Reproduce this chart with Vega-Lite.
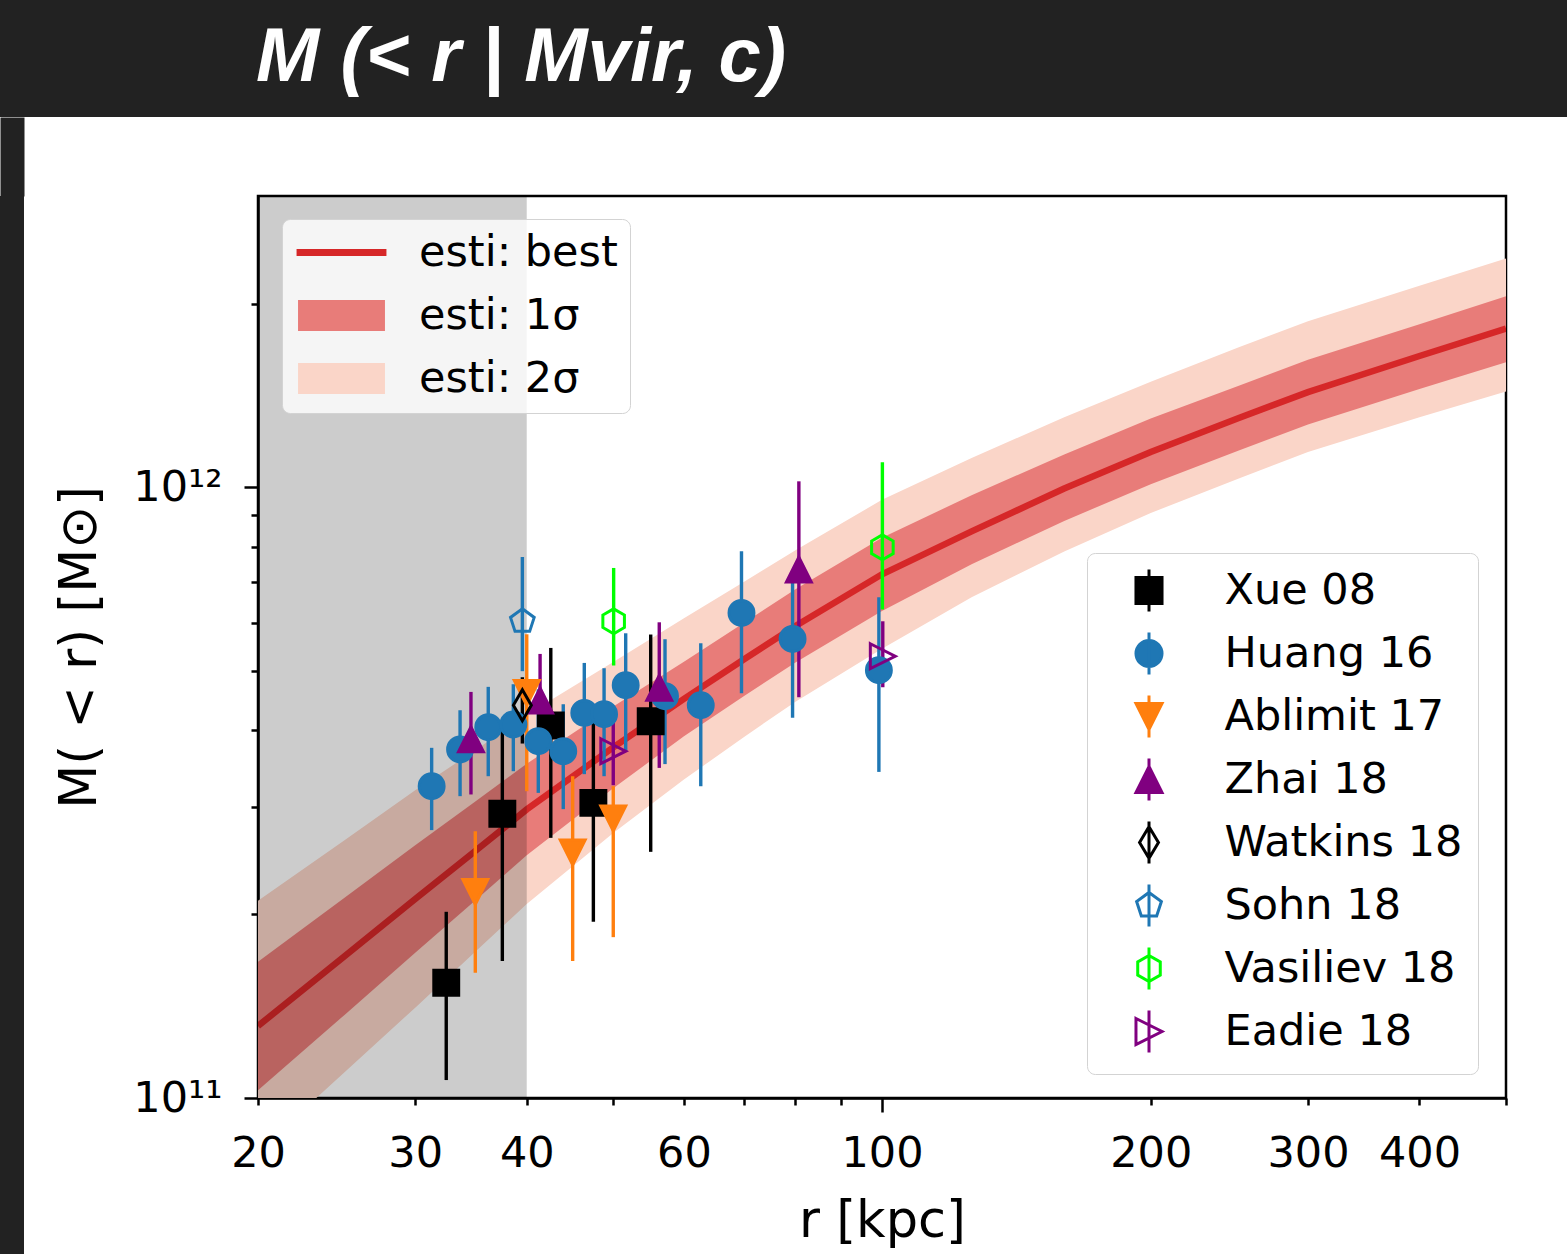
{
  "$schema": "https://vega.github.io/schema/vega-lite/v6.json",
  "padding": 0,
  "background": "white",
  "spacing": -12,
  "config": {
    "axis": {
      "grid": false,
      "domainColor": "black",
      "domainWidth": 2.5,
      "tickColor": "black",
      "tickWidth": 2.5,
      "labelFont": "DejaVu Sans",
      "labelFontSize": 43,
      "labelColor": "black",
      "titleFont": "DejaVu Sans",
      "titleFontSize": 51,
      "titleFontWeight": "normal",
      "titleColor": "black",
      "labelFlush": false,
      "labelOverlap": false
    }
  },
  "datasets": {
    "curve": [
      {"r": 20, "m": 1.312e11, "s1lo": 1.030e11, "s1hi": 1.671e11, "s2lo": 0.818e11, "s2hi": 2.104e11},
      {"r": 25, "m": 1.706e11, "s1lo": 1.368e11, "s1hi": 2.128e11, "s2lo": 1.102e11, "s2hi": 2.642e11},
      {"r": 30, "m": 2.118e11, "s1lo": 1.730e11, "s1hi": 2.594e11, "s2lo": 1.406e11, "s2hi": 3.192e11},
      {"r": 35, "m": 2.535e11, "s1lo": 2.104e11, "s1hi": 3.055e11, "s2lo": 1.734e11, "s2hi": 3.707e11},
      {"r": 40, "m": 2.969e11, "s1lo": 2.498e11, "s1hi": 3.528e11, "s2lo": 2.078e11, "s2hi": 4.242e11},
      {"r": 50, "m": 3.750e11, "s1lo": 3.214e11, "s1hi": 4.375e11, "s2lo": 2.716e11, "s2hi": 5.176e11},
      {"r": 60, "m": 4.504e11, "s1lo": 3.913e11, "s1hi": 5.183e11, "s2lo": 3.323e11, "s2hi": 6.103e11},
      {"r": 70, "m": 5.224e11, "s1lo": 4.550e11, "s1hi": 5.998e11, "s2lo": 3.899e11, "s2hi": 6.998e11},
      {"r": 80, "m": 5.929e11, "s1lo": 5.164e11, "s1hi": 6.808e11, "s2lo": 4.457e11, "s2hi": 7.889e11},
      {"r": 100, "m": 7.205e11, "s1lo": 6.276e11, "s1hi": 8.272e11, "s2lo": 5.441e11, "s2hi": 9.541e11},
      {"r": 126, "m": 8.472e11, "s1lo": 7.482e11, "s1hi": 9.705e11, "s2lo": 6.607e11, "s2hi": 1.117e12},
      {"r": 160, "m": 9.954e11, "s1lo": 8.810e11, "s1hi": 1.132e12, "s2lo": 7.852e11, "s2hi": 1.303e12},
      {"r": 200, "m": 1.143e12, "s1lo": 1.012e12, "s1hi": 1.297e12, "s2lo": 9.078e11, "s2hi": 1.489e12},
      {"r": 251, "m": 1.299e12, "s1lo": 1.149e12, "s1hi": 1.467e12, "s2lo": 1.034e12, "s2hi": 1.696e12},
      {"r": 300, "m": 1.432e12, "s1lo": 1.268e12, "s1hi": 1.618e12, "s2lo": 1.143e12, "s2hi": 1.871e12},
      {"r": 400, "m": 1.641e12, "s1lo": 1.449e12, "s1hi": 1.849e12, "s2lo": 1.303e12, "s2hi": 2.138e12},
      {"r": 500, "m": 1.820e12, "s1lo": 1.603e12, "s1hi": 2.056e12, "s2lo": 1.435e12, "s2hi": 2.371e12}
    ],
    "shade": [{"x1": 20, "x2": 40}],
    "header": [{"t": "M (< r | Mvir, c)"}],
    "obs": [
      {"source": "Xue 08", "r": 32.5, "m": 1.544e11, "lo": 1.07e11, "hi": 2.018e11},
      {"source": "Xue 08", "r": 37.56, "m": 2.92e11, "lo": 1.676e11, "hi": 4.14e11},
      {"source": "Xue 08", "r": 42.56, "m": 4.074e11, "lo": 2.667e11, "hi": 5.458e11},
      {"source": "Xue 08", "r": 47.5, "m": 3.043e11, "lo": 1.943e11, "hi": 4.14e11},
      {"source": "Xue 08", "r": 55.07, "m": 4.14e11, "lo": 2.53e11, "hi": 5.741e11},
      {"source": "Huang 16", "r": 31.3, "m": 3.24e11, "lo": 2.746e11, "hi": 3.745e11},
      {"source": "Huang 16", "r": 33.68, "m": 3.722e11, "lo": 3.121e11, "hi": 4.315e11},
      {"source": "Huang 16", "r": 36.22, "m": 4.048e11, "lo": 3.365e11, "hi": 4.713e11},
      {"source": "Huang 16", "r": 38.64, "m": 4.09e11, "lo": 3.429e11, "hi": 4.76e11},
      {"source": "Huang 16", "r": 41.21, "m": 3.84e11, "lo": 3.16e11, "hi": 4.67e11},
      {"source": "Huang 16", "r": 43.95, "m": 3.698e11, "lo": 2.972e11, "hi": 4.414e11},
      {"source": "Huang 16", "r": 46.4, "m": 4.272e11, "lo": 3.391e11, "hi": 5.158e11},
      {"source": "Huang 16", "r": 48.83, "m": 4.251e11, "lo": 3.365e11, "hi": 5.056e11},
      {"source": "Huang 16", "r": 51.63, "m": 4.742e11, "lo": 3.698e11, "hi": 5.768e11},
      {"source": "Huang 16", "r": 57.14, "m": 4.55e11, "lo": 3.522e11, "hi": 5.64e11},
      {"source": "Huang 16", "r": 62.66, "m": 4.397e11, "lo": 3.24e11, "hi": 5.555e11},
      {"source": "Huang 16", "r": 69.6, "m": 6.228e11, "lo": 4.601e11, "hi": 7.858e11},
      {"source": "Huang 16", "r": 79.4, "m": 5.646e11, "lo": 4.193e11, "hi": 7.018e11},
      {"source": "Huang 16", "r": 99.2, "m": 5.018e11, "lo": 3.42e11, "hi": 6.607e11},
      {"source": "Ablimit 17", "r": 35.03, "m": 2.174e11, "lo": 1.604e11, "hi": 2.735e11},
      {"source": "Ablimit 17", "r": 40.0, "m": 4.607e11, "lo": 3.18e11, "hi": 5.746e11},
      {"source": "Ablimit 17", "r": 45.03, "m": 2.525e11, "lo": 1.676e11, "hi": 3.365e11},
      {"source": "Ablimit 17", "r": 50.0, "m": 2.87e11, "lo": 1.834e11, "hi": 3.24e11},
      {"source": "Zhai 18", "r": 34.64, "m": 3.868e11, "lo": 3.141e11, "hi": 4.624e11},
      {"source": "Zhai 18", "r": 41.4, "m": 4.477e11, "lo": 3.67e11, "hi": 5.336e11},
      {"source": "Zhai 18", "r": 56.3, "m": 4.694e11, "lo": 3.472e11, "hi": 6.012e11},
      {"source": "Zhai 18", "r": 80.7, "m": 7.334e11, "lo": 4.532e11, "hi": 1.023e12},
      {"source": "Watkins 18", "r": 39.55, "m": 4.397e11, "lo": 3.806e11, "hi": 4.887e11},
      {"source": "Sohn 18", "r": 39.55, "m": 6.035e11, "lo": 5.0e11, "hi": 7.69e11},
      {"source": "Vasiliev 18", "r": 50.05, "m": 6.035e11, "lo": 5.108e11, "hi": 7.379e11},
      {"source": "Vasiliev 18", "r": 100.1, "m": 7.977e11, "lo": 6.307e11, "hi": 1.099e12},
      {"source": "Eadie 18", "r": 50.0, "m": 3.698e11, "lo": 3.253e11, "hi": 4.288e11},
      {"source": "Eadie 18", "r": 100.2, "m": 5.29e11, "lo": 4.706e11, "hi": 6.035e11}
    ]
  },
  "vconcat": [
    {
      "width": 1567,
      "height": 117,
      "data": {"name": "header"},
      "mark": {
        "type": "text",
        "align": "left",
        "baseline": "alphabetic",
        "x": 256,
        "y": 81,
        "font": "Liberation Sans",
        "fontSize": 76,
        "fontStyle": "italic",
        "fontWeight": "bold",
        "color": "white"
      },
      "encoding": {"text": {"field": "t", "type": "nominal"}},
      "view": {"fill": "#222222", "stroke": null}
    },
    {
      "spacing": 29,
      "hconcat": [
        {
          "width": 24,
          "height": 1059,
          "data": {"values": [{}]},
          "mark": {"type": "point", "opacity": 0},
          "encoding": {
            "x": {
              "datum": 0.5, "type": "quantitative",
              "scale": {"domain": [0, 1]},
              "axis": {"orient": "top", "values": [0.5], "tickSize": 79, "tickWidth": 24, "tickCap": "butt", "tickColor": "#222222", "labels": false, "domain": false, "title": null, "ticks": true}
            }
          },
          "view": {"fill": "#222222", "stroke": null}
        },
        {
          "width": 1248,
          "height": 902,
          "view": {"stroke": "black", "strokeWidth": 2.5, "fill": "white"},
          "title": {"text": " ", "fontSize": 20, "offset": 55},
          "layer": [
            {
              "data": {"name": "curve"},
              "mark": {"type": "area", "clip": true, "opacity": 1},
              "encoding": {
                "x": {
                  "field": "r", "type": "quantitative",
                  "scale": {"type": "log", "domain": [20, 500], "nice": false},
                  "axis": {
                    "title": "r [kpc]",
                    "values": [20, 30, 40, 50, 60, 70, 80, 90, 100, 200, 300, 400, 500],
                    "format": "d",
                    "labelExpr": "indexof([20,30,40,60,100,200,300,400], datum.value) >= 0 ? datum.label : ''",
                    "tickSize": {"condition": {"test": "datum.value == 100", "value": 14}, "value": 7},
                    "labelPadding": {"condition": {"test": "datum.value == 100", "value": 20}, "value": 27},
                    "titlePadding": 21
                  }
                },
                "y": {
                  "field": "s2lo", "type": "quantitative",
                  "scale": {"type": "log", "domain": [1e11, 3e12], "nice": false},
                  "axis": {
                    "title": "M( < r) [M⊙]",
                    "values": [1e11, 2e11, 3e11, 4e11, 5e11, 6e11, 7e11, 8e11, 9e11, 1e12, 2e12],
                    "labelExpr": "datum.value == 1e11 ? '10¹¹' : (datum.value == 1e12 ? '10¹²' : '')",
                    "tickSize": {"condition": {"test": "datum.value == 1e11 || datum.value == 1e12", "value": 14}, "value": 7},
                    "labelPadding": 22,
                    "titlePadding": 26
                  }
                },
                "y2": {"field": "s2hi"},
                "color": {
                  "datum": "esti: 2σ", "type": "nominal",
                  "scale": {"domain": ["esti: best", "esti: 1σ", "esti: 2σ"], "range": ["#d62728", "#e87c79", "#fad5c8"]},
                  "legend": {
                    "orient": "none", "legendX": 282, "legendY": 219, "title": null,
                    "symbolSize": 1764, "symbolStrokeWidth": 0, "labelLimit": 500,
                    "symbolType": {"expr": "datum.value === 'esti: best' ? 'M-2.14,-0.17H2.14V0.17H-2.14Z' : 'M-2.07,-0.74H2.07V0.74H-2.07Z'"},
                    "symbolOpacity": 1,
                    "labelFont": "DejaVu Sans", "labelFontSize": 43, "labelColor": "black",
                    "padding": 12, "rowPadding": 19, "symbolOffset": 26, "labelOffset": 56,
                    "fillColor": "rgba(255,255,255,0.8)", "strokeColor": "#d3d3d3", "cornerRadius": 8
                  }
                }
              }
            },
            {
              "data": {"name": "curve"},
              "mark": {"type": "area", "clip": true, "opacity": 1},
              "encoding": {
                "x": {"field": "r", "type": "quantitative", "scale": {"type": "log", "domain": [20, 500], "nice": false}},
                "y": {"field": "s1lo", "type": "quantitative", "scale": {"type": "log", "domain": [1e11, 3e12], "nice": false}},
                "y2": {"field": "s1hi"},
                "color": {"datum": "esti: 1σ", "type": "nominal", "scale": {"domain": ["esti: best", "esti: 1σ", "esti: 2σ"], "range": ["#d62728", "#e87c79", "#fad5c8"]}}
              }
            },
            {
              "data": {"name": "curve"},
              "mark": {"type": "line", "clip": true, "strokeWidth": 6.5, "opacity": 1},
              "encoding": {
                "x": {"field": "r", "type": "quantitative", "scale": {"type": "log", "domain": [20, 500], "nice": false}},
                "y": {"field": "m", "type": "quantitative", "scale": {"type": "log", "domain": [1e11, 3e12], "nice": false}},
                "color": {"datum": "esti: best", "type": "nominal", "scale": {"domain": ["esti: best", "esti: 1σ", "esti: 2σ"], "range": ["#d62728", "#e87c79", "#fad5c8"]}}
              }
            },
            {
              "data": {"name": "shade"},
              "mark": {"type": "rect", "color": "black", "opacity": 0.2},
              "encoding": {
                "x": {"field": "x1", "type": "quantitative", "scale": {"type": "log", "domain": [20, 500], "nice": false}},
                "x2": {"field": "x2"}
              }
            },
            {
              "data": {"name": "obs"},
              "mark": {"type": "rule", "strokeWidth": 3.4},
              "encoding": {
                "x": {"field": "r", "type": "quantitative", "scale": {"type": "log", "domain": [20, 500], "nice": false}},
                "y": {"field": "lo", "type": "quantitative", "scale": {"type": "log", "domain": [1e11, 3e12], "nice": false}},
                "y2": {"field": "hi"},
                "stroke": {
                  "field": "source", "type": "nominal",
                  "scale": {"domain": ["Xue 08", "Huang 16", "Ablimit 17", "Zhai 18", "Watkins 18", "Sohn 18", "Vasiliev 18", "Eadie 18"],
                            "range": ["black", "#1f77b4", "#ff7f0e", "purple", "black", "#1f77b4", "#00ff00", "purple"]},
                  "legend": {
                    "orient": "none", "legendX": 1087, "legendY": 553, "title": null,
                    "symbolSize": 1764, "symbolStrokeWidth": 3, "labelLimit": 500, "symbolOpacity": 1,
                    "symbolType": {"expr": "datum.value === 'Xue 08' ? 'M-0.62,-0.62H0.62V0.62H-0.62Z M0,-1V1' : datum.value === 'Huang 16' ? 'M-0.62,0A0.62,0.62,0,1,0,0.62,0A0.62,0.62,0,1,0,-0.62,0Z M0,-1V1' : datum.value === 'Ablimit 17' ? 'M-0.62,-0.62L0.62,-0.62L0,0.62Z M0,-1V1' : datum.value === 'Zhai 18' ? 'M0,-0.62L0.62,0.62L-0.62,0.62Z M0,-1V1' : datum.value === 'Watkins 18' ? 'M0,-0.75L0.45,0L0,0.75L-0.45,0Z M0,-1V1' : datum.value === 'Sohn 18' ? 'M0,-0.62L0.59,-0.19L0.365,0.5L-0.365,0.5L-0.59,-0.19Z M0,-1V1' : datum.value === 'Vasiliev 18' ? 'M0,-0.62L0.537,-0.31L0.537,0.31L0,0.62L-0.537,0.31L-0.537,-0.31Z M0,-1V1' : 'M-0.62,-0.62L0.62,0L-0.62,0.62Z M0,-1V1'"},
                    "labelFont": "DejaVu Sans", "labelFontSize": 43, "labelColor": "black",
                    "padding": 15, "rowPadding": 8, "symbolOffset": 24.5, "labelOffset": 53,
                    "fillColor": "rgba(255,255,255,0.8)", "strokeColor": "#d3d3d3", "cornerRadius": 8
                  }
                }
              }
            },
            {
              "data": {"name": "obs"},
              "transform": [{"filter": "datum.source === 'Xue 08'"}],
              "mark": {"type": "point", "shape": "square", "filled": true, "size": 620, "strokeWidth": 3, "opacity": 1},
              "encoding": {
                "x": {"field": "r", "type": "quantitative", "scale": {"type": "log", "domain": [20, 500], "nice": false}},
                "y": {"field": "m", "type": "quantitative", "scale": {"type": "log", "domain": [1e11, 3e12], "nice": false}},
                "stroke": {"field": "source", "type": "nominal", "scale": {"domain": ["Xue 08", "Huang 16", "Ablimit 17", "Zhai 18", "Watkins 18", "Sohn 18", "Vasiliev 18", "Eadie 18"], "range": ["black", "#1f77b4", "#ff7f0e", "purple", "black", "#1f77b4", "#00ff00", "purple"]}},
                "fill": {"field": "source", "type": "nominal", "scale": {"domain": ["Xue 08", "Huang 16", "Ablimit 17", "Zhai 18", "Watkins 18", "Sohn 18", "Vasiliev 18", "Eadie 18"], "range": ["black", "#1f77b4", "#ff7f0e", "purple", "transparent", "transparent", "transparent", "transparent"]}}
              }
            },
            {
              "data": {"name": "obs"},
              "transform": [{"filter": "datum.source === 'Huang 16'"}],
              "mark": {"type": "point", "shape": "circle", "filled": true, "size": 620, "strokeWidth": 3, "opacity": 1},
              "encoding": {
                "x": {"field": "r", "type": "quantitative", "scale": {"type": "log", "domain": [20, 500], "nice": false}},
                "y": {"field": "m", "type": "quantitative", "scale": {"type": "log", "domain": [1e11, 3e12], "nice": false}},
                "stroke": {"field": "source", "type": "nominal", "scale": {"domain": ["Xue 08", "Huang 16", "Ablimit 17", "Zhai 18", "Watkins 18", "Sohn 18", "Vasiliev 18", "Eadie 18"], "range": ["black", "#1f77b4", "#ff7f0e", "purple", "black", "#1f77b4", "#00ff00", "purple"]}},
                "fill": {"field": "source", "type": "nominal", "scale": {"domain": ["Xue 08", "Huang 16", "Ablimit 17", "Zhai 18", "Watkins 18", "Sohn 18", "Vasiliev 18", "Eadie 18"], "range": ["black", "#1f77b4", "#ff7f0e", "purple", "transparent", "transparent", "transparent", "transparent"]}}
              }
            },
            {
              "data": {"name": "obs"},
              "transform": [{"filter": "datum.source === 'Ablimit 17'"}],
              "mark": {"type": "point", "shape": "M-1,-1L1,-1L0,1Z", "filled": true, "size": 620, "strokeWidth": 3, "opacity": 1},
              "encoding": {
                "x": {"field": "r", "type": "quantitative", "scale": {"type": "log", "domain": [20, 500], "nice": false}},
                "y": {"field": "m", "type": "quantitative", "scale": {"type": "log", "domain": [1e11, 3e12], "nice": false}},
                "stroke": {"field": "source", "type": "nominal", "scale": {"domain": ["Xue 08", "Huang 16", "Ablimit 17", "Zhai 18", "Watkins 18", "Sohn 18", "Vasiliev 18", "Eadie 18"], "range": ["black", "#1f77b4", "#ff7f0e", "purple", "black", "#1f77b4", "#00ff00", "purple"]}},
                "fill": {"field": "source", "type": "nominal", "scale": {"domain": ["Xue 08", "Huang 16", "Ablimit 17", "Zhai 18", "Watkins 18", "Sohn 18", "Vasiliev 18", "Eadie 18"], "range": ["black", "#1f77b4", "#ff7f0e", "purple", "transparent", "transparent", "transparent", "transparent"]}}
              }
            },
            {
              "data": {"name": "obs"},
              "transform": [{"filter": "datum.source === 'Zhai 18'"}],
              "mark": {"type": "point", "shape": "M0,-1L1,1L-1,1Z", "filled": true, "size": 620, "strokeWidth": 3, "opacity": 1},
              "encoding": {
                "x": {"field": "r", "type": "quantitative", "scale": {"type": "log", "domain": [20, 500], "nice": false}},
                "y": {"field": "m", "type": "quantitative", "scale": {"type": "log", "domain": [1e11, 3e12], "nice": false}},
                "stroke": {"field": "source", "type": "nominal", "scale": {"domain": ["Xue 08", "Huang 16", "Ablimit 17", "Zhai 18", "Watkins 18", "Sohn 18", "Vasiliev 18", "Eadie 18"], "range": ["black", "#1f77b4", "#ff7f0e", "purple", "black", "#1f77b4", "#00ff00", "purple"]}},
                "fill": {"field": "source", "type": "nominal", "scale": {"domain": ["Xue 08", "Huang 16", "Ablimit 17", "Zhai 18", "Watkins 18", "Sohn 18", "Vasiliev 18", "Eadie 18"], "range": ["black", "#1f77b4", "#ff7f0e", "purple", "transparent", "transparent", "transparent", "transparent"]}}
              }
            },
            {
              "data": {"name": "obs"},
              "transform": [{"filter": "datum.source === 'Watkins 18'"}],
              "mark": {"type": "point", "shape": "M0,-1.25L0.72,0L0,1.25L-0.72,0Z", "filled": true, "size": 620, "strokeWidth": 3, "opacity": 1},
              "encoding": {
                "x": {"field": "r", "type": "quantitative", "scale": {"type": "log", "domain": [20, 500], "nice": false}},
                "y": {"field": "m", "type": "quantitative", "scale": {"type": "log", "domain": [1e11, 3e12], "nice": false}},
                "stroke": {"field": "source", "type": "nominal", "scale": {"domain": ["Xue 08", "Huang 16", "Ablimit 17", "Zhai 18", "Watkins 18", "Sohn 18", "Vasiliev 18", "Eadie 18"], "range": ["black", "#1f77b4", "#ff7f0e", "purple", "black", "#1f77b4", "#00ff00", "purple"]}},
                "fill": {"field": "source", "type": "nominal", "scale": {"domain": ["Xue 08", "Huang 16", "Ablimit 17", "Zhai 18", "Watkins 18", "Sohn 18", "Vasiliev 18", "Eadie 18"], "range": ["black", "#1f77b4", "#ff7f0e", "purple", "transparent", "transparent", "transparent", "transparent"]}}
              }
            },
            {
              "data": {"name": "obs"},
              "transform": [{"filter": "datum.source === 'Sohn 18'"}],
              "mark": {"type": "point", "shape": "M0,-1L0.951,-0.309L0.588,0.809L-0.588,0.809L-0.951,-0.309Z", "filled": true, "size": 620, "strokeWidth": 3, "opacity": 1},
              "encoding": {
                "x": {"field": "r", "type": "quantitative", "scale": {"type": "log", "domain": [20, 500], "nice": false}},
                "y": {"field": "m", "type": "quantitative", "scale": {"type": "log", "domain": [1e11, 3e12], "nice": false}},
                "stroke": {"field": "source", "type": "nominal", "scale": {"domain": ["Xue 08", "Huang 16", "Ablimit 17", "Zhai 18", "Watkins 18", "Sohn 18", "Vasiliev 18", "Eadie 18"], "range": ["black", "#1f77b4", "#ff7f0e", "purple", "black", "#1f77b4", "#00ff00", "purple"]}},
                "fill": {"field": "source", "type": "nominal", "scale": {"domain": ["Xue 08", "Huang 16", "Ablimit 17", "Zhai 18", "Watkins 18", "Sohn 18", "Vasiliev 18", "Eadie 18"], "range": ["black", "#1f77b4", "#ff7f0e", "purple", "transparent", "transparent", "transparent", "transparent"]}}
              }
            },
            {
              "data": {"name": "obs"},
              "transform": [{"filter": "datum.source === 'Vasiliev 18'"}],
              "mark": {"type": "point", "shape": "M0,-1L0.866,-0.5L0.866,0.5L0,1L-0.866,0.5L-0.866,-0.5Z", "filled": true, "size": 620, "strokeWidth": 3, "opacity": 1},
              "encoding": {
                "x": {"field": "r", "type": "quantitative", "scale": {"type": "log", "domain": [20, 500], "nice": false}},
                "y": {"field": "m", "type": "quantitative", "scale": {"type": "log", "domain": [1e11, 3e12], "nice": false}},
                "stroke": {"field": "source", "type": "nominal", "scale": {"domain": ["Xue 08", "Huang 16", "Ablimit 17", "Zhai 18", "Watkins 18", "Sohn 18", "Vasiliev 18", "Eadie 18"], "range": ["black", "#1f77b4", "#ff7f0e", "purple", "black", "#1f77b4", "#00ff00", "purple"]}},
                "fill": {"field": "source", "type": "nominal", "scale": {"domain": ["Xue 08", "Huang 16", "Ablimit 17", "Zhai 18", "Watkins 18", "Sohn 18", "Vasiliev 18", "Eadie 18"], "range": ["black", "#1f77b4", "#ff7f0e", "purple", "transparent", "transparent", "transparent", "transparent"]}}
              }
            },
            {
              "data": {"name": "obs"},
              "transform": [{"filter": "datum.source === 'Eadie 18'"}],
              "mark": {"type": "point", "shape": "M-1,-1L1,0L-1,1Z", "filled": true, "size": 620, "strokeWidth": 3, "opacity": 1},
              "encoding": {
                "x": {"field": "r", "type": "quantitative", "scale": {"type": "log", "domain": [20, 500], "nice": false}},
                "y": {"field": "m", "type": "quantitative", "scale": {"type": "log", "domain": [1e11, 3e12], "nice": false}},
                "stroke": {"field": "source", "type": "nominal", "scale": {"domain": ["Xue 08", "Huang 16", "Ablimit 17", "Zhai 18", "Watkins 18", "Sohn 18", "Vasiliev 18", "Eadie 18"], "range": ["black", "#1f77b4", "#ff7f0e", "purple", "black", "#1f77b4", "#00ff00", "purple"]}},
                "fill": {"field": "source", "type": "nominal", "scale": {"domain": ["Xue 08", "Huang 16", "Ablimit 17", "Zhai 18", "Watkins 18", "Sohn 18", "Vasiliev 18", "Eadie 18"], "range": ["black", "#1f77b4", "#ff7f0e", "purple", "transparent", "transparent", "transparent", "transparent"]}}
              }
            }
          ]
        }
      ]
    }
  ]
}
